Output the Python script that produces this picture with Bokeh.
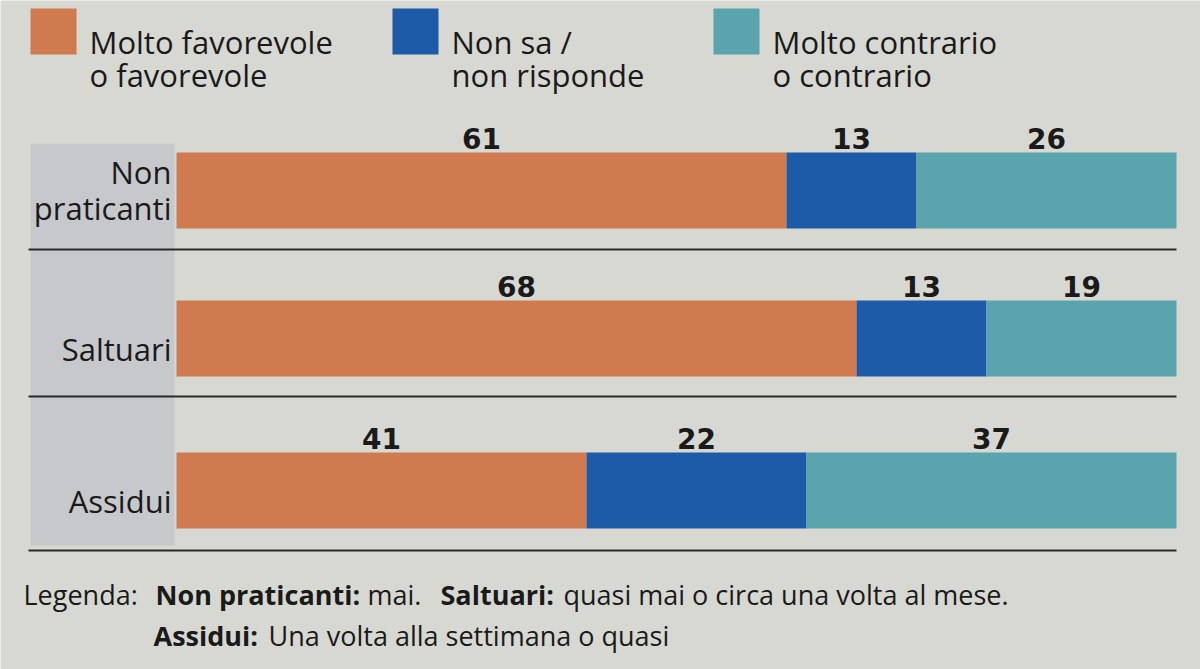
from bokeh.plotting import figure
from bokeh.models import Range1d, ColumnDataSource, Label, BoxAnnotation
from bokeh.core.properties import value
from bokeh.embed import file_html
from bokeh.resources import INLINE

# --- data -------------------------------------------------------------
categories = ["Non praticanti", "Saltuari", "Assidui"]
category_lines = [["Non", "praticanti"], ["Saltuari"], ["Assidui"]]
favorevole = [61, 68, 41]
non_sa = [13, 13, 22]
contrario = [26, 19, 37]
series_names = [["Molto favorevole", "o favorevole"],
                ["Non sa /", "non risponde"],
                ["Molto contrario", "o contrario"]]

# --- style ------------------------------------------------------------
BG = "#d8d8d3"
BAND = "#c7c8cb"
COLORS = ["#d07a50", "#1d5aa8", "#5aa4ad"]
INK = "#1a1a1a"
FONT = "Open Sans"
NUM_FONT = "DejaVu Sans"

W, H = 1200, 669
BAR_X0 = 176          # screen x where 0 % sits
PX_PER_UNIT = 10      # 100 % -> 1000 px
row_y = [190, 338, 490]   # row centres, pixels from the top
BAR_H = 76

def sx(px):
    """screen x in pixels -> data x in percent"""
    return (px - BAR_X0) / PX_PER_UNIT

p = figure(width=W, height=H,
           x_range=Range1d(sx(0), sx(W)), y_range=Range1d(H, 0),
           output_backend="svg", toolbar_location=None,
           x_axis_location=None, y_axis_location=None,
           min_border=0)
p.grid.visible = False
p.outline_line_color = None
p.background_fill_color = BG
p.border_fill_color = BG

# grey column behind the category names
p.add_layout(BoxAnnotation(left=30, right=174, left_units="screen", right_units="screen",
                           top=143, bottom=545, fill_color=BAND, fill_alpha=1,
                           line_color=None, level="underlay"))

# stacked bars
src = ColumnDataSource(dict(y=row_y, fav=favorevole, ns=non_sa, con=contrario))
p.hbar_stack(["fav", "ns", "con"], y="y", height=BAR_H, color=COLORS,
             line_color=None, source=src)

# value labels centred over each segment
vx, vy, vt = [], [], []
for i in range(len(categories)):
    left = 0
    for v in (favorevole[i], non_sa[i], contrario[i]):
        vx.append(left + v / 2)
        vy.append(row_y[i] - BAR_H / 2 - 14)
        vt.append(str(v))
        left += v
p.text(x=vx, y=vy, text=vt, text_align="center", text_baseline="alphabetic",
       text_font=value(NUM_FONT), text_font_style="bold", text_font_size="28px",
       text_color=INK)

# separators under each row
sep_y = [249, 396, 550]
p.segment(x0=[sx(28)] * 3, x1=[sx(1176)] * 3, y0=sep_y, y1=sep_y,
          line_color="#2a2a2a", line_width=2)

# category names, right aligned against the bars
for i, lines in enumerate(category_lines):
    if len(lines) == 1:
        baselines = [row_y[i] + 10]
    else:
        baselines = [row_y[i] - 19 + k * 36 for k in range(len(lines))]
    for t, b in zip(lines, baselines):
        p.add_layout(Label(x=171, y=b, x_units="screen", text=t,
                           text_align="right", text_baseline="alphabetic",
                           text_font=FONT, text_font_size="31px", text_color=INK))

# legend
leg_x = [30, 392, 713]
for j, lines in enumerate(series_names):
    p.add_layout(BoxAnnotation(left=leg_x[j], right=leg_x[j] + 46,
                               left_units="screen", right_units="screen",
                               top=8, bottom=54, fill_color=COLORS[j], fill_alpha=1,
                               line_color=None))
    for k, t in enumerate(lines):
        p.add_layout(Label(x=leg_x[j] + 59, y=41 + k * 33, x_units="screen", text=t,
                           text_align="left", text_baseline="alphabetic",
                           text_font=FONT, text_font_size="31px", text_color=INK))

# footnote
foot = [
    (23, 594, "Legenda:", "normal"),
    (155, 594, "Non praticanti:", "bold"),
    (367, 594, "mai.", "normal"),
    (440, 594, "Saltuari:", "bold"),
    (563, 594, "quasi mai o circa una volta al mese.", "normal"),
    (153, 635, "Assidui:", "bold"),
    (268, 635, "Una volta alla settimana o quasi", "normal"),
]
for x, y, t, style in foot:
    p.add_layout(Label(x=x, y=y, x_units="screen", text=t, text_align="left",
                       text_baseline="alphabetic", text_font=FONT,
                       text_font_style=style, text_font_size="27px", text_color=INK))

open("out.html", "w").write(file_html(p, INLINE))
